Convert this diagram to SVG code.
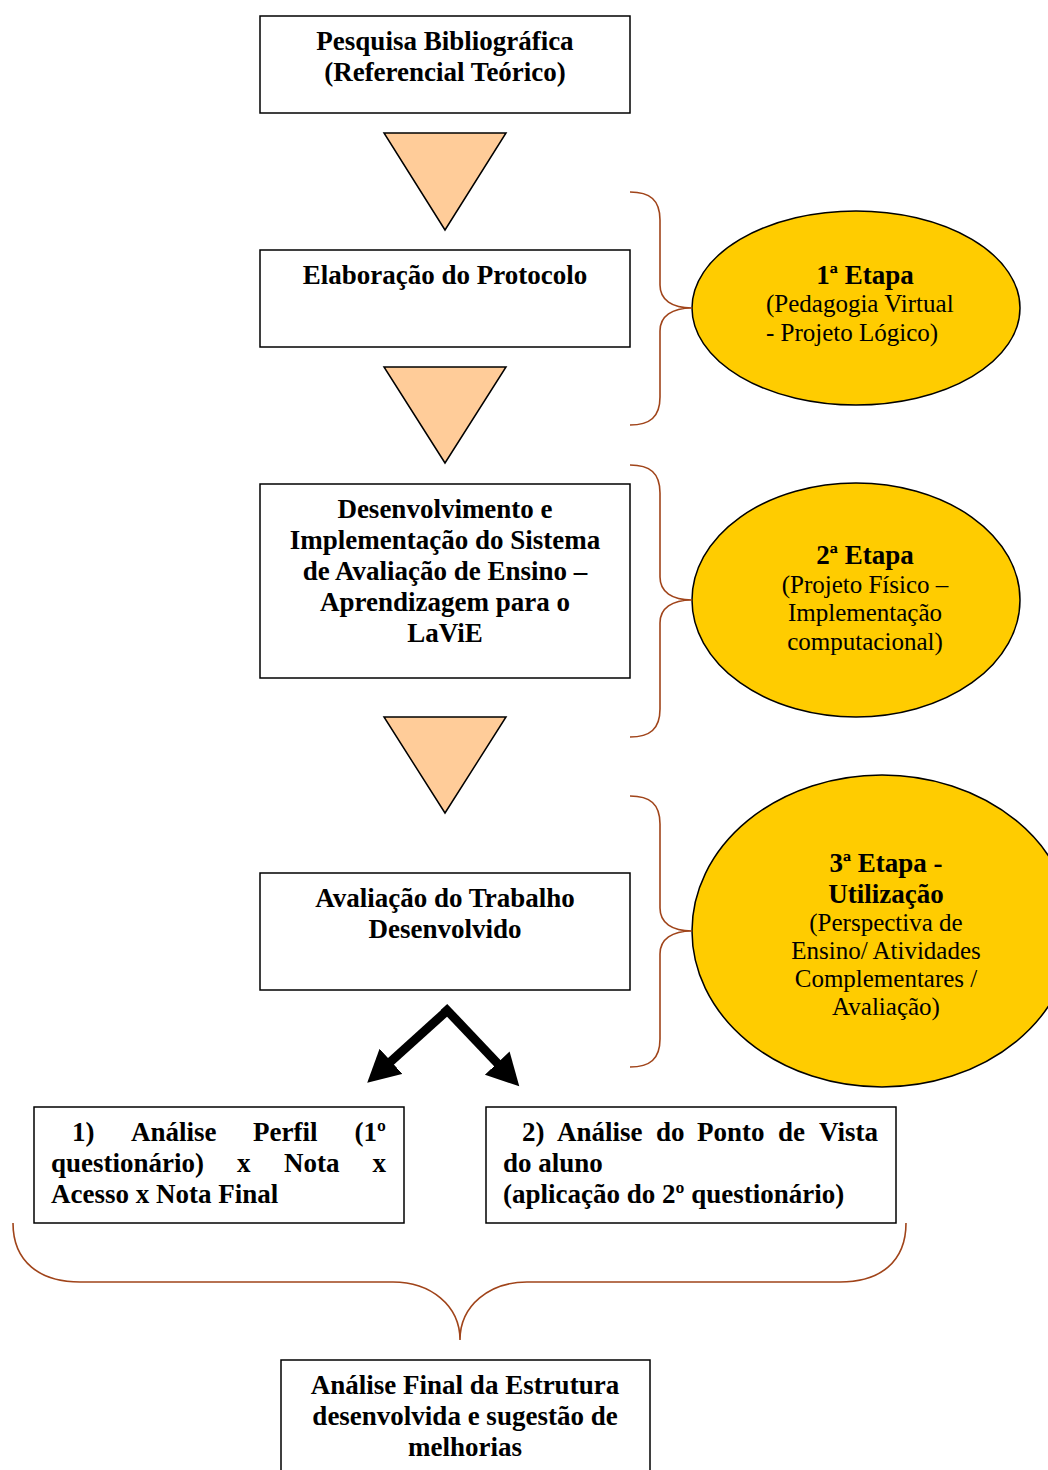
<svg xmlns="http://www.w3.org/2000/svg" width="1048" height="1470" viewBox="0 0 1048 1470">
  <style>
    .box { fill: #ffffff; stroke: #000000; stroke-width: 1.5; }
    .tri { fill: #FFCC99; stroke: #000000; stroke-width: 1.5; }
    .stage { fill: #FFCC00; stroke: #000000; stroke-width: 1.5; }
    .brace { fill: none; stroke: #A0441A; stroke-width: 1.6; }
    .flow { fill: none; stroke: #000000; stroke-width: 9; }
    text { font-family: "Liberation Serif", "Times New Roman", serif; fill: #000000; }
    .b { font-weight: bold; font-size: 27px; }
    .r { font-size: 25px; }
    .c { text-anchor: middle; }
    .e { text-anchor: end; }
  </style>
  <defs>
    <marker id="head" markerUnits="userSpaceOnUse" markerWidth="40" markerHeight="40" refX="4" refY="17" orient="auto">
      <path d="M0,0 L32,17 L0,34 Z" fill="#000000"/>
    </marker>
  </defs>

  <!-- process boxes -->
  <g id="pesquisa">
    <rect class="box" x="260" y="16" width="370" height="97"/>
    <text class="b c" x="445" y="50">Pesquisa Bibliográfica</text>
    <text class="b c" x="445" y="81">(Referencial Teórico)</text>
  </g>

  <g id="protocolo">
    <rect class="box" x="260" y="250" width="370" height="97"/>
    <text class="b c" x="445" y="284">Elaboração do Protocolo</text>
  </g>

  <g id="desenvolvimento">
    <rect class="box" x="260" y="484" width="370" height="194"/>
    <text class="b c" x="445" y="518">Desenvolvimento e</text>
    <text class="b c" x="445" y="549">Implementação do Sistema</text>
    <text class="b c" x="445" y="580">de Avaliação de Ensino –</text>
    <text class="b c" x="445" y="611">Aprendizagem para o</text>
    <text class="b c" x="445" y="642">LaViE</text>
  </g>

  <g id="avaliacao">
    <rect class="box" x="260" y="873" width="370" height="117"/>
    <text class="b c" x="445" y="907">Avaliação do Trabalho</text>
    <text class="b c" x="445" y="938">Desenvolvido</text>
  </g>

  <g id="analise-perfil">
    <rect class="box" x="34" y="1107" width="370" height="116"/>
    <text class="b" y="1141"><tspan x="72">1)</tspan><tspan x="131">Análise</tspan><tspan x="253">Perfil</tspan></text>
    <text class="b e" x="386" y="1141">(1º</text>
    <text class="b" y="1172"><tspan x="51">questionário)</tspan><tspan x="237">x</tspan><tspan x="284">Nota</tspan></text>
    <text class="b e" x="386" y="1172">x</text>
    <text class="b" x="51" y="1203">Acesso x Nota Final</text>
  </g>

  <g id="analise-ponto-vista">
    <rect class="box" x="486" y="1107" width="410" height="116"/>
    <text class="b" y="1141"><tspan x="522">2)</tspan><tspan x="557">Análise</tspan><tspan x="656">do</tspan><tspan x="697">Ponto</tspan><tspan x="778">de</tspan></text>
    <text class="b e" x="878" y="1141">Vista</text>
    <text class="b" x="503" y="1172">do aluno</text>
    <text class="b" x="503" y="1203">(aplicação do 2º questionário)</text>
  </g>

  <g id="analise-final">
    <rect class="box" x="281" y="1360" width="369" height="120"/>
    <text class="b c" x="465" y="1394">Análise Final da Estrutura</text>
    <text class="b c" x="465" y="1425">desenvolvida e sugestão de</text>
    <text class="b c" x="465" y="1456">melhorias</text>
  </g>

  <!-- stage ellipses -->
  <g id="etapa-1">
    <ellipse class="stage" cx="856" cy="308" rx="164" ry="97"/>
    <text class="b c" x="865" y="284">1ª Etapa</text>
    <text class="r" x="766" y="312">(Pedagogia Virtual</text>
    <text class="r" x="766" y="341">- Projeto Lógico)</text>
  </g>

  <g id="etapa-2">
    <ellipse class="stage" cx="856" cy="600" rx="164" ry="117"/>
    <text class="b c" x="865" y="564">2ª Etapa</text>
    <text class="r c" x="865" y="593">(Projeto Físico –</text>
    <text class="r c" x="865" y="621">Implementação</text>
    <text class="r c" x="865" y="650">computacional)</text>
  </g>

  <g id="etapa-3">
    <ellipse class="stage" cx="882" cy="931" rx="190" ry="156"/>
    <text class="b c" x="886" y="872">3ª Etapa -</text>
    <text class="b c" x="886" y="903">Utilização</text>
    <text class="r c" x="886" y="931">(Perspectiva de</text>
    <text class="r c" x="886" y="959">Ensino/ Atividades</text>
    <text class="r c" x="886" y="987">Complementares /</text>
    <text class="r c" x="886" y="1015">Avaliação)</text>
  </g>

  <!-- connectors -->
  <g id="connectors">
    <polygon class="tri" points="384,133 506,133 445,230"/>
    <polygon class="tri" points="384,367 506,367 445,463"/>
    <polygon class="tri" points="384,717 506,717 445,813"/>

    <line class="flow" x1="450" y1="1008" x2="388" y2="1064" marker-end="url(#head)"/>
    <line class="flow" x1="444" y1="1007" x2="500" y2="1066" marker-end="url(#head)"/>

    <path class="brace" d="M630,192 C650,192 660,200 660,220 L660,285 C660,300 672,308 692,308 C672,308 660,316 660,331 L660,397 C660,417 650,425 630,425"/>
    <path class="brace" d="M630,465 C650,465 660,473 660,493 L660,577 C660,592 672,600 692,600 C672,600 660,608 660,623 L660,709 C660,729 650,737 630,737"/>
    <path class="brace" d="M630,796 C650,796 660,804 660,824 L660,908 C660,923 672,931 692,931 C672,931 660,939 660,954 L660,1039 C660,1059 650,1067 630,1067"/>
    <path class="brace" d="M13,1223 C13,1262 40,1282 80,1282 L393,1282 C430,1282 460,1305 460,1340 C460,1305 490,1282 527,1282 L840,1282 C880,1282 906,1262 906,1223"/>
  </g>
</svg>
